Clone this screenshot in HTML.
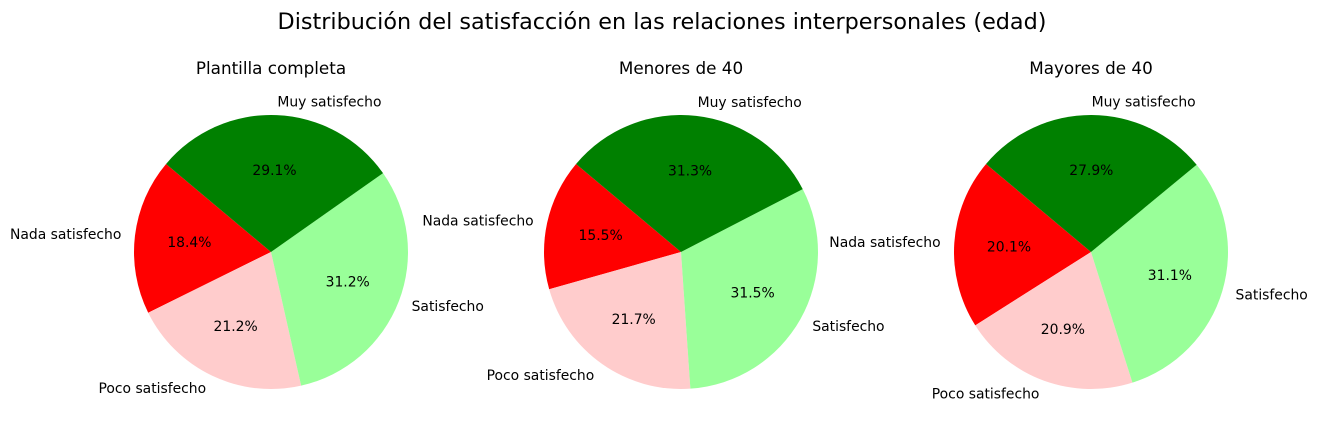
<!DOCTYPE html>
<html><head><meta charset="utf-8"><style>
body{margin:0;background:#fff;}
svg{display:block;font-family:"DejaVu Sans","Liberation Sans",sans-serif;}
</style></head><body>
<svg id="chart" width="1317" height="433" viewBox="0 0 1317 433">
<text x="662" y="29" font-size="22.3" text-anchor="middle">Distribución del satisfacción en las relaciones interpersonales (edad)</text>
</svg>
<script>
const categories = ["Nada satisfecho","Poco satisfecho","Satisfecho","Muy satisfecho"];
const panelTitles = ["Plantilla completa","Menores de 40","Mayores de 40"];
const valuesTotal = [18.4, 21.2, 31.2, 29.1];
const valuesUnder40 = [15.5, 21.7, 31.5, 31.3];
const valuesOver40 = [20.1, 20.9, 31.1, 27.9];
const seriesList = [valuesTotal, valuesUnder40, valuesOver40];
const colors = ["#ff0000","#ffcccc","#99ff99","#008000"];
const startAngle = 140;
const svg = document.getElementById('chart');
const NS = "http://www.w3.org/2000/svg";
const centersX = [271, 681, 1091], cy = 252, R = 137;
function pt(cx, a, r){const t=a*Math.PI/180;return [cx+r*Math.cos(t), cy-r*Math.sin(t)];}
seriesList.forEach((vals, p) => {
  const cx = centersX[p];
  const g = document.createElementNS(NS,'g');
  
  
  svg.appendChild(g);
  const tt = document.createElementNS(NS,'text');
  tt.setAttribute('x', cx); tt.setAttribute('y', 74);
  tt.setAttribute('font-size','16.8'); tt.setAttribute('text-anchor','middle');
  tt.textContent = panelTitles[p];
  
  
  g.appendChild(tt);
  const total = vals.reduce((a,b)=>a+b,0);
  let a0 = startAngle;
  vals.forEach((v,i) => {
    const span = v/total*360, a1 = a0+span;
    const [x0,y0]=pt(cx,a0,R),[x1,y1]=pt(cx,a1,R);
    const path = document.createElementNS(NS,'path');
    path.setAttribute('d',`M${cx},${cy} L${x0},${y0} A${R},${R} 0 ${span>180?1:0} 0 ${x1},${y1} Z`);
    path.setAttribute('fill', colors[i]);
    
    
    g.appendChild(path);
    const mid = (a0+a1)/2;
    const [lx,ly] = pt(cx,mid,R*1.1);
    const lab = document.createElementNS(NS,'text');
    lab.setAttribute('x', lx); lab.setAttribute('y', ly+5);
    lab.setAttribute('font-size','13.9');
    lab.setAttribute('text-anchor', Math.cos(mid*Math.PI/180)>0?'start':'end');
    lab.textContent = categories[i];
    
    
    g.appendChild(lab);
    const [px,py] = pt(cx,mid,R*0.6);
    const pc = document.createElementNS(NS,'text');
    pc.setAttribute('x', px); pc.setAttribute('y', py+5);
    pc.setAttribute('font-size','13.9'); pc.setAttribute('text-anchor','middle');
    pc.textContent = (v/total*100).toFixed(1) + '%';
    
    
    g.appendChild(pc);
    a0 = a1;
  });
});
</script>
</body></html>
